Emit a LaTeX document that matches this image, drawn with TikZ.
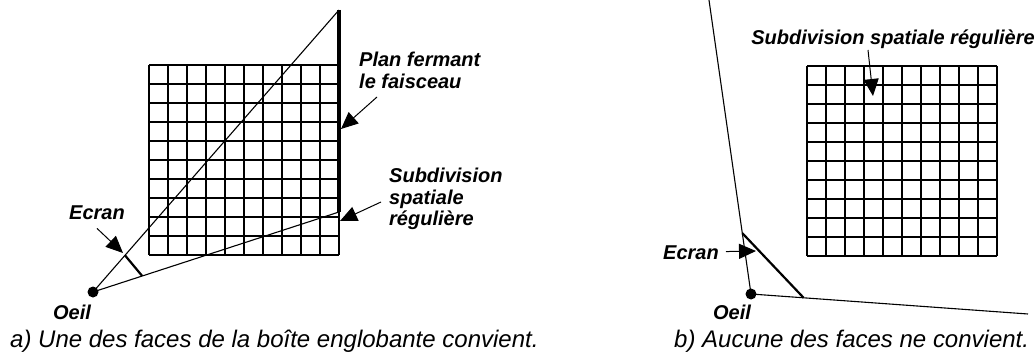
\documentclass[tikz,border=0pt]{standalone}
\usepackage{fontspec}
\setmainfont{Liberation Sans}
\usetikzlibrary{arrows.meta,calc}

\begin{document}
\begin{tikzpicture}[
        x=1pt,
        y=-1pt,
        every node/.style={inner sep=0pt},
        etiquette/.style={
            font=\fontsize{20}{21.5}\selectfont\bfseries\itshape,
            align=left
        },
        legende/.style={
            font=\fontsize{24}{28}\selectfont\itshape,
            anchor=base west
        },
        rayon/.style={line width=1.1pt},
        grille/.style={line width=1.1pt},
        ecran/.style={line width=2.2pt},
        plan/.style={line width=3.2pt},
        fleche/.style={
            line width=1pt,
            -{Triangle[length=17pt,width=15pt]}
        },
        oeil/.style={
            circle,
            fill=black,
            minimum size=11pt
        }
    ]

    \useasboundingbox (0,0) rectangle (1036,358);

    % a) une face convient
    \foreach \i in {0,...,10} {
        \draw[grille] (149+19*\i,65) -- (149+19*\i,255);
        \draw[grille] (149,65+19*\i) -- (339,65+19*\i);
    }

    \node[oeil] (oeilA) at (93,292) {};
    \coordinate (hautA) at (339,10);
    \coordinate (basA) at (339,212);

    \draw[rayon] (oeilA.center) -- (hautA);
    \draw[rayon] (oeilA.center) -- (basA);
    \draw[plan] (hautA) -- (basA);
    \draw[ecran] ($(oeilA.center)!0.13!(hautA)$) -- ($(oeilA.center)!0.2!(basA)$);

    \node[etiquette, anchor=base] (ecranA) at (97,220) {Ecran};
    \node[etiquette, anchor=base] (nomA) at (72,319) {Oeil};
    \node[etiquette, anchor=north west] (planA) at (359,52)
    {Plan fermant\\le faisceau};
    \node[etiquette, anchor=north west] (subA) at (389,168)
    {Subdivision\\spatiale\\régulière};

    \coordinate (pointeEcranA) at (123,253);
    \coordinate (pointePlanA) at (341,129);
    \coordinate (pointeSubA) at (340,221);

    \draw[fleche] ([yshift=-8pt]ecranA.south) -- (pointeEcranA);
    \draw[fleche] (377,97) -- (pointePlanA);
    \draw[fleche] (381,202) -- (pointeSubA);

    \node[legende] (legA) at (10,347)
    {a) Une des faces de la boîte englobante convient.};

    % b) aucune face ne convient
    \foreach \i in {0,...,10} {
        \draw[grille] (807+19*\i,66) -- (807+19*\i,256);
        \draw[grille] (807,66+19*\i) -- (997,66+19*\i);
    }

    \node[oeil] (oeilB) at (751,294) {};
    \coordinate (hautB) at (709,0);
    \coordinate (droiteB) at (1028,314);

    \draw[rayon] (oeilB.center) -- (hautB);
    \draw[rayon] (oeilB.center) -- (droiteB);
    \draw[ecran] ($(oeilB.center)!0.207!(hautB)$) -- ($(oeilB.center)!0.19!(droiteB)$);

    \node[etiquette, anchor=base] (ecranB) at (691,259) {Ecran};
    \node[etiquette, anchor=base] (nomB) at (732,319) {Oeil};
    \node[etiquette, anchor=base] (subB) at (893,45)
    {Subdivision spatiale régulière};

    \coordinate (pointeEcranB) at (756,251);
    \coordinate (pointeSubB) at (873,96);

    \draw[fleche, shorten <=7pt] (ecranB) -- (pointeEcranB);
    \draw[fleche] (868,50) -- (pointeSubB);

    \node[legende] (legB) at (674,347)
    {b) Aucune des faces ne convient.};

\end{tikzpicture}
\end{document}
